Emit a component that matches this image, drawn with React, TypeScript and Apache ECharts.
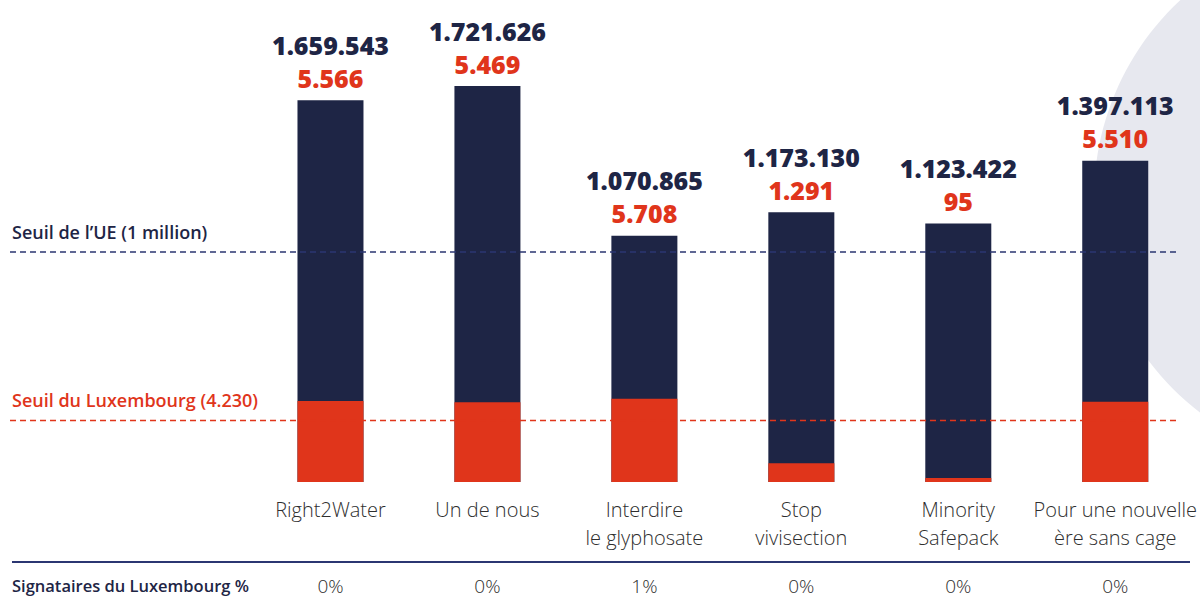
import React, { useEffect, useRef } from "react";
import * as echarts from "echarts";

const categories = [
  "Right2Water",
  "Un de nous",
  "Interdire\nle glyphosate",
  "Stop\nvivisection",
  "Minority\nSafepack",
  "Pour une nouvelle\nère sans cage",
];
const euSignatures = [1659543, 1721626, 1070865, 1173130, 1123422, 1397113];
const luxSignatures = [5566, 5469, 5708, 1291, 95, 5510];
const luxPercent = [0, 0, 1, 0, 0, 0];
const EU_THRESHOLD = 1000000;
const LUX_THRESHOLD = 4230;
const EU_LABEL = "Seuil de l’UE (1 million)";
const LUX_LABEL = "Seuil du Luxembourg (4.230)";
const FOOTER_LABEL = "Signataires du Luxembourg %";

const NAVY = "#1e2545";
const RED = "#e0351b";
const LINE_NAVY = "#2b3672";

const fmt = (n: number) => String(n).replace(/\B(?=(\d{3})+(?!\d))/g, ".");

export default function App() {
  const ref = useRef<HTMLDivElement>(null);
  useEffect(() => {
    document.body.style.margin = "0";
    const chart = echarts.init(ref.current!, null, { renderer: "svg" });
    chart.setOption({
      animation: false,
      grid: { left: 252, right: 6, top: 45, bottom: 115 },
      xAxis: [
        {
          type: "category",
          data: categories,
          axisLine: { show: false },
          axisTick: { show: false },
          axisLabel: {
            interval: 0,
            margin: 13,
            fontFamily: "Open Sans",
            fontWeight: 300,
            fontSize: 20,
            lineHeight: 28,
            color: "#2e2e2e",
          },
        },
        {
          type: "category",
          position: "bottom",
          offset: 94,
          data: categories,
          axisLine: { show: false },
          axisTick: { show: false },
          axisLabel: {
            interval: 0,
            margin: 0,
            fontFamily: "Open Sans",
            fontWeight: 300,
            fontSize: 19,
            lineHeight: 19,
            color: "#2e2e2e",
            formatter: (_v: string, i: number) => luxPercent[i] + "%",
          },
        },
      ],
      yAxis: [
        { type: "value", min: 0, max: 1900000, show: false, splitLine: { show: false } },
        { type: "value", min: 0, max: 30000, show: false, splitLine: { show: false } },
      ],
      series: [
        {
          type: "bar",
          xAxisIndex: 0,
          yAxisIndex: 0,
          data: euSignatures,
          barWidth: 66,
          barGap: "-100%",
          itemStyle: { color: NAVY },
          label: {
            show: true,
            position: "top",
            distance: 6,
            formatter: (p: any) => `{a|${fmt(euSignatures[p.dataIndex])}}\n{b|${fmt(luxSignatures[p.dataIndex])}}`,
            rich: {
              a: { fontFamily: "Open Sans", fontWeight: 800, fontSize: 25, lineHeight: 33, color: NAVY },
              b: { fontFamily: "Open Sans", fontWeight: 800, fontSize: 25, lineHeight: 33, color: RED },
            },
          },
        },
        {
          type: "bar",
          xAxisIndex: 0,
          yAxisIndex: 1,
          data: luxSignatures,
          barWidth: 66,
          barGap: "-100%",
          barMinHeight: 4,
          itemStyle: { color: RED },
        },
      ],
    });
    const yEu = chart.convertToPixel({ yAxisIndex: 0 }, EU_THRESHOLD) as number;
    const yLux = chart.convertToPixel({ yAxisIndex: 1 }, LUX_THRESHOLD) as number;
    chart.setOption({
      graphic: [
        {
          type: "circle",
          z: -10,
          shape: { cx: 1364, cy: 198, r: 270 },
          style: { fill: "#e7e8ef" },
        },
        {
          type: "line",
          z: 50,
          shape: { x1: 10, y1: yEu, x2: 1176, y2: yEu },
          style: { stroke: LINE_NAVY, lineWidth: 1.5, lineDash: [6, 4] },
        },
        {
          type: "line",
          z: 50,
          shape: { x1: 10, y1: yLux, x2: 1176, y2: yLux },
          style: { stroke: RED, lineWidth: 1.5, lineDash: [6, 4] },
        },
        {
          type: "text",
          z: 50,
          x: 12,
          y: yEu - 11,
          style: {
            text: EU_LABEL,
            fontFamily: "Open Sans",
            fontWeight: 600,
            fontSize: 18,
            fill: NAVY,
            verticalAlign: "bottom",
          },
        },
        {
          type: "text",
          z: 50,
          x: 12,
          y: yLux - 11,
          style: {
            text: LUX_LABEL,
            fontFamily: "Open Sans",
            fontWeight: 600,
            fontSize: 18,
            fill: RED,
            verticalAlign: "bottom",
          },
        },
        {
          type: "line",
          z: 50,
          shape: { x1: 12, y1: 562, x2: 1190, y2: 562 },
          style: { stroke: LINE_NAVY, lineWidth: 2 },
        },
        {
          type: "text",
          z: 50,
          x: 12,
          y: 585,
          style: {
            text: FOOTER_LABEL,
            fontFamily: "Open Sans",
            fontWeight: 600,
            fontSize: 16.5,
            fill: NAVY,
            verticalAlign: "middle",
          },
        },
      ],
    });
    return () => chart.dispose();
  }, []);
  return <div ref={ref} style={{ width: 1200, height: 597 }} />;
}
